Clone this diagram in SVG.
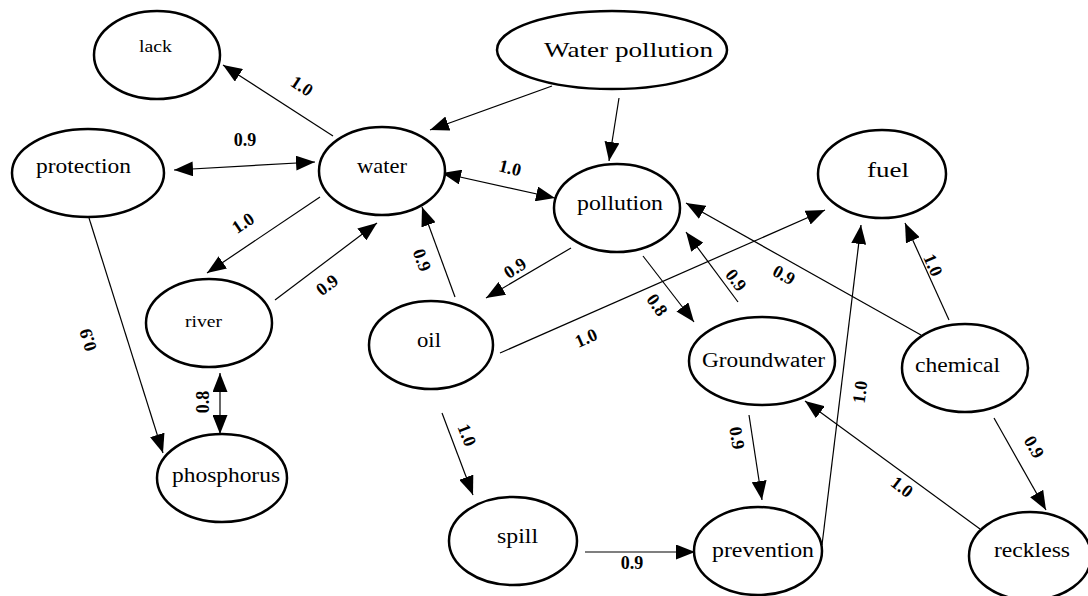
<svg xmlns="http://www.w3.org/2000/svg" width="1088" height="596" viewBox="0 0 1088 596">
<style>
.n ellipse{fill:#fff;stroke:#000;stroke-width:2.5}
.n text{font-family:"Liberation Serif","Times New Roman",serif;fill:#000}
.e line{stroke:#000;stroke-width:1.2;fill:none}
.l{font-family:"Liberation Serif","Times New Roman",serif;font-weight:bold;font-size:18px;fill:#000;text-anchor:middle;dominant-baseline:central}
</style>
<defs>
<marker id="ah" viewBox="0 0 19 15" refX="19" refY="7.5" markerWidth="19" markerHeight="15" orient="auto-start-reverse" markerUnits="userSpaceOnUse">
<path d="M0,0 L19,7.5 L0,15 z" fill="#000"/>
</marker>
</defs>
<rect width="1088" height="596" fill="#fff"/>
<g id="connectors" class="e">
<line x1="333" y1="136" x2="223" y2="65" marker-end="url(#ah)"/>
<line x1="174" y1="170" x2="315" y2="162" marker-start="url(#ah)" marker-end="url(#ah)"/>
<line x1="320" y1="197" x2="207" y2="273" marker-end="url(#ah)"/>
<line x1="275" y1="300" x2="377" y2="223" marker-end="url(#ah)"/>
<line x1="220" y1="373" x2="220" y2="434" marker-start="url(#ah)" marker-end="url(#ah)"/>
<line x1="89" y1="218" x2="163" y2="453" marker-end="url(#ah)"/>
<line x1="552" y1="86" x2="430" y2="130" marker-end="url(#ah)"/>
<line x1="619" y1="98" x2="609" y2="161" marker-end="url(#ah)"/>
<line x1="442" y1="173" x2="555" y2="198" marker-start="url(#ah)" marker-end="url(#ah)"/>
<line x1="571" y1="248" x2="486" y2="298" marker-end="url(#ah)"/>
<line x1="455" y1="297" x2="422" y2="207" marker-end="url(#ah)"/>
<line x1="500" y1="353" x2="825" y2="210" marker-end="url(#ah)"/>
<line x1="643" y1="256" x2="694" y2="322" marker-end="url(#ah)"/>
<line x1="738" y1="302" x2="686" y2="232" marker-end="url(#ah)"/>
<line x1="921" y1="335" x2="686" y2="203" marker-end="url(#ah)"/>
<line x1="949" y1="320" x2="905" y2="223" marker-end="url(#ah)"/>
<line x1="822" y1="545" x2="861" y2="225" marker-end="url(#ah)"/>
<line x1="749" y1="415" x2="762" y2="500" marker-end="url(#ah)"/>
<line x1="980" y1="529" x2="805" y2="401" marker-end="url(#ah)"/>
<line x1="994" y1="418" x2="1046" y2="510" marker-end="url(#ah)"/>
<line x1="442" y1="413" x2="473" y2="495" marker-end="url(#ah)"/>
<line x1="585" y1="552" x2="695" y2="552" marker-end="url(#ah)"/>
</g>
<g id="edge-labels">
<text class="l" transform="translate(302,86) rotate(33)">1.0</text>
<text class="l" transform="translate(245,140)">0.9</text>
<text class="l" transform="translate(243,223) rotate(-34)">1.0</text>
<text class="l" transform="translate(327,285) rotate(-37)">0.9</text>
<text class="l" transform="translate(203,402) rotate(-90)">0.8</text>
<text class="l" transform="translate(88,340) rotate(-107)">0.9</text>
<text class="l" transform="translate(510,168) rotate(14)">1.0</text>
<text class="l" transform="translate(515,268) rotate(-33)">0.9</text>
<text class="l" transform="translate(422,260) rotate(70)">0.9</text>
<text class="l" transform="translate(586,338) rotate(-24)">1.0</text>
<text class="l" transform="translate(657,305) rotate(55)">0.8</text>
<text class="l" transform="translate(736,280) rotate(53)">0.9</text>
<text class="l" transform="translate(784,275) rotate(29)">0.9</text>
<text class="l" transform="translate(933,265) rotate(66)">1.0</text>
<text class="l" transform="translate(860,392) rotate(-83)">1.0</text>
<text class="l" transform="translate(737,438) rotate(81)">0.9</text>
<text class="l" transform="translate(902,487) rotate(38)">1.0</text>
<text class="l" transform="translate(1034,447) rotate(60)">0.9</text>
<text class="l" transform="translate(467,435) rotate(69)">1.0</text>
<text class="l" transform="translate(632,563)">0.9</text>
</g>
<g id="lack" class="n"><ellipse cx="157" cy="55" rx="63" ry="44"/><text x="139" y="52" font-size="17" textLength="33" lengthAdjust="spacingAndGlyphs">lack</text></g>
<g id="water-pollution" class="n"><ellipse cx="612" cy="50" rx="115" ry="39"/><text x="544" y="57" font-size="21" textLength="169" lengthAdjust="spacingAndGlyphs">Water pollution</text></g>
<g id="protection" class="n"><ellipse cx="88" cy="173" rx="76" ry="44"/><text x="36" y="173" font-size="20" textLength="95" lengthAdjust="spacingAndGlyphs">protection</text></g>
<g id="water" class="n"><ellipse cx="382" cy="171" rx="63" ry="44"/><text x="357" y="173" font-size="21" textLength="50" lengthAdjust="spacingAndGlyphs">water</text></g>
<g id="pollution" class="n"><ellipse cx="617" cy="208" rx="63" ry="44"/><text x="577" y="210" font-size="20" textLength="86" lengthAdjust="spacingAndGlyphs">pollution</text></g>
<g id="fuel" class="n"><ellipse cx="882" cy="174" rx="64" ry="44"/><text x="867" y="177" font-size="21" textLength="42" lengthAdjust="spacingAndGlyphs">fuel</text></g>
<g id="river" class="n"><ellipse cx="209" cy="323" rx="63" ry="44"/><text x="185" y="327" font-size="17" textLength="37" lengthAdjust="spacingAndGlyphs">river</text></g>
<g id="oil" class="n"><ellipse cx="431" cy="345" rx="62" ry="44"/><text x="417" y="347" font-size="20" textLength="24" lengthAdjust="spacingAndGlyphs">oil</text></g>
<g id="phosphorus" class="n"><ellipse cx="222" cy="478" rx="65" ry="44"/><text x="172" y="482" font-size="20" textLength="108" lengthAdjust="spacingAndGlyphs">phosphorus</text></g>
<g id="groundwater" class="n"><ellipse cx="762" cy="361" rx="73" ry="44"/><text x="702" y="367" font-size="20" textLength="123" lengthAdjust="spacingAndGlyphs">Groundwater</text></g>
<g id="chemical" class="n"><ellipse cx="965" cy="368" rx="63" ry="44"/><text x="915" y="372" font-size="20" textLength="85" lengthAdjust="spacingAndGlyphs">chemical</text></g>
<g id="spill" class="n"><ellipse cx="513" cy="541" rx="64" ry="44"/><text x="497" y="543" font-size="20" textLength="41" lengthAdjust="spacingAndGlyphs">spill</text></g>
<g id="prevention" class="n"><ellipse cx="758" cy="551" rx="64" ry="44"/><text x="712" y="557" font-size="20" textLength="102" lengthAdjust="spacingAndGlyphs">prevention</text></g>
<g id="reckless" class="n"><ellipse cx="1030" cy="556" rx="61" ry="44"/><text x="994" y="557" font-size="20" textLength="76" lengthAdjust="spacingAndGlyphs">reckless</text></g>
</svg>
